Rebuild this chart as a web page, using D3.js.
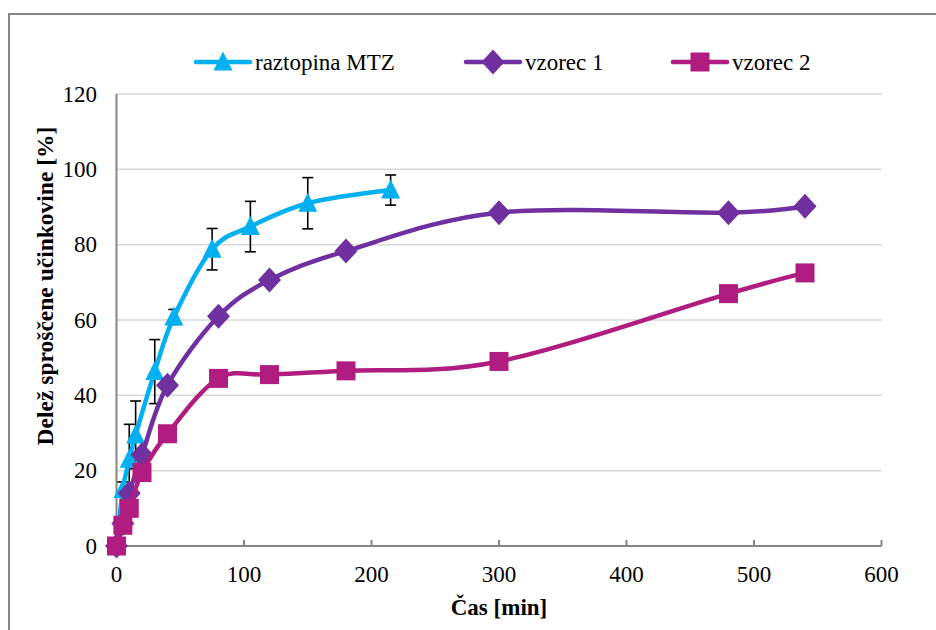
<!DOCTYPE html>
<html>
  <head>
    <meta charset="utf-8">
    <title>Delež sproščene učinkovine</title>
    <script src="https://d3js.org/d3.v7.min.js"></script>
    <style>
      body { margin: 0; background: #fff; }
      svg text { fill: #000; }
      .grid line { stroke: #d9d9d9; stroke-width: 1.5; }
      .axis-line { stroke: #868686; stroke-width: 2; fill: none; }
    </style>
  </head>
  <body>
    <svg width="936" height="630"></svg>
    <script>
// Data
var timeMTZ = [0, 5, 10, 15, 30, 45, 75, 105, 150, 215];
var valMTZ  = [0, 15, 23, 29.5, 46.3, 60.8, 78.8, 84.8, 91, 94.5];
var errMTZ  = [0, 2, 9.3, 9, 8.5, 2, 5.5, 6.7, 6.8, 4];

var timeV = [0, 5, 10, 20, 40, 80, 120, 180, 300, 480, 540];
var valV1 = [0, 6, 14, 24.2, 42.7, 61, 70.6, 78.3, 88.5, 88.5, 90.2];
var valV2 = [0, 5.5, 10, 19.5, 29.8, 44.5, 45.5, 46.5, 49, 67, 72.5];

var seriesNames = ["raztopina MTZ", "vzorec 1", "vzorec 2"];
var seriesColors = ["#00b0f0", "#7030a0", "#b01c7f"];
var xTicks = [0, 100, 200, 300, 400, 500, 600];
var yTicks = [0, 20, 40, 60, 80, 100, 120];

var font = "Liberation Serif";

var svg = d3.select("svg");

// chart frame
svg.append("rect")
    .attr("x", 9).attr("y", 14)
    .attr("width", 960).attr("height", 660)
    .attr("fill", "none")
    .attr("stroke", "#868686")
    .attr("stroke-width", 2);

var x = d3.scaleLinear().domain([0, 600]).range([116.5, 881.5]);
var y = d3.scaleLinear().domain([0, 120]).range([546, 94]);

// gridlines
svg.append("g").attr("class", "grid")
  .selectAll("line")
  .data(yTicks.slice(1))
  .enter().append("line")
    .attr("x1", x(0)).attr("x2", x(600))
    .attr("y1", d => y(d)).attr("y2", d => y(d));

// axes
svg.append("line").attr("class", "axis-line")
    .attr("x1", x(0)).attr("x2", x(0)).attr("y1", y(120)).attr("y2", y(0));
svg.append("line").attr("class", "axis-line")
    .attr("x1", x(0) - 1).attr("x2", x(600)).attr("y1", y(0)).attr("y2", y(0));

svg.append("g").selectAll("line")
  .data(xTicks.slice(1))
  .enter().append("line")
    .attr("class", "axis-line")
    .attr("x1", d => x(d)).attr("x2", d => x(d))
    .attr("y1", y(0)).attr("y2", y(0) - 6);

svg.append("g").selectAll("text")
  .data(xTicks)
  .enter().append("text")
    .attr("x", d => x(d))
    .attr("y", 582)
    .attr("text-anchor", "middle")
    .style("font-family", font)
    .attr("font-size", 23)
    .text(d => d);

svg.append("g").selectAll("text")
  .data(yTicks)
  .enter().append("text")
    .attr("x", 97)
    .attr("y", d => y(d))
    .attr("dy", "0.33em")
    .attr("text-anchor", "end")
    .style("font-family", font)
    .attr("font-size", 23)
    .text(d => d);

// axis titles
svg.append("text")
    .attr("x", (x(0) + x(600)) / 2)
    .attr("y", 615)
    .attr("text-anchor", "middle")
    .style("font-family", font)
    .attr("font-size", 23)
    .attr("font-weight", "bold")
    .text("Čas [min]");

svg.append("text")
    .attr("transform", "translate(53,286) rotate(-90)")
    .attr("text-anchor", "middle")
    .style("font-family", font)
    .attr("font-size", 23.5)
    .attr("font-weight", "bold")
    .text("Delež sproščene učinkovine [%]");

// markers
function triangle(s) {
  var h = s / 2;
  return "M0," + (-h - 1) + "L" + h + "," + (h - 1) + "L" + (-h) + "," + (h - 1) + "Z";
}
function diamond(w, h) {
  return "M0," + (-h / 2) + "L" + (w / 2) + ",0L0," + (h / 2) + "L" + (-w / 2) + ",0Z";
}
function square(s) {
  var h = s / 2;
  return "M" + (-h) + "," + (-h) + "h" + s + "v" + s + "h" + (-s) + "Z";
}
var markers = [triangle(19), diamond(23, 25), square(19)];

var line = d3.line()
    .x(d => x(d[0]))
    .y(d => y(d[1]))
    .curve(d3.curveCardinal.tension(0));

var seriesData = [
  d3.zip(timeMTZ, valMTZ),
  d3.zip(timeV, valV1),
  d3.zip(timeV, valV2)
];

// error bars for the solution
var errData = d3.zip(timeMTZ, valMTZ, errMTZ).filter(d => d[2] > 0);
var eb = svg.append("g").attr("stroke", "#000").attr("stroke-width", 1.6);
eb.selectAll("line.v").data(errData).enter().append("line")
    .attr("x1", d => x(d[0])).attr("x2", d => x(d[0]))
    .attr("y1", d => y(d[1] + d[2])).attr("y2", d => y(d[1] - d[2]));
eb.selectAll("line.t").data(errData).enter().append("line")
    .attr("x1", d => x(d[0]) - 5.5).attr("x2", d => x(d[0]) + 5.5)
    .attr("y1", d => y(d[1] + d[2])).attr("y2", d => y(d[1] + d[2]));
eb.selectAll("line.b").data(errData).enter().append("line")
    .attr("x1", d => x(d[0]) - 5.5).attr("x2", d => x(d[0]) + 5.5)
    .attr("y1", d => y(d[1] - d[2])).attr("y2", d => y(d[1] - d[2]));

seriesData.forEach(function (data, i) {
  var g = svg.append("g");
  g.append("path")
      .datum(data)
      .attr("d", line)
      .attr("fill", "none")
      .attr("stroke", seriesColors[i])
      .attr("stroke-width", 4.5)
      .attr("stroke-linejoin", "round");
  g.selectAll("path.m")
    .data(data)
    .enter().append("path")
      .attr("class", "m")
      .attr("d", markers[i])
      .attr("transform", d => "translate(" + x(d[0]) + "," + y(d[1]) + ")")
      .attr("fill", seriesColors[i]);
});

// legend
var legendX = [196, 466, 673];
var legend = svg.append("g");
seriesNames.forEach(function (name, i) {
  var lg = legend.append("g").attr("transform", "translate(" + legendX[i] + ",62)");
  lg.append("line")
      .attr("x1", 0).attr("x2", 54)
      .attr("stroke", seriesColors[i])
      .attr("stroke-width", 4.5)
      .attr("stroke-linecap", "round");
  lg.append("path")
      .attr("d", markers[i])
      .attr("transform", "translate(27,0)")
      .attr("fill", seriesColors[i]);
  lg.append("text")
      .attr("x", 59)
      .attr("dy", "0.33em")
      .style("font-family", font)
      .attr("font-size", 23)
      .text(name);
});
    </script>
  </body>
</html>
